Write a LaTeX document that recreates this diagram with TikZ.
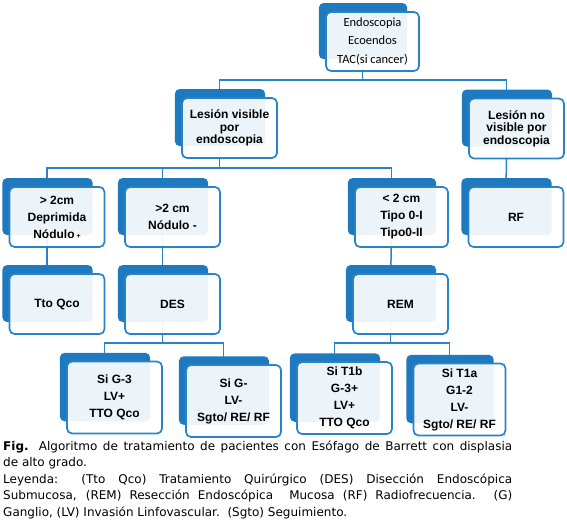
\documentclass[tikz,border=0pt]{standalone}
\usepackage{fontspec}
\setmainfont{DejaVu Sans}
\newfontfamily\boxfont{Liberation Sans}
\newfontfamily\calfont{Carlito}
\usetikzlibrary{shadows,backgrounds}

\definecolor{backblue}{RGB}{31,121,190}
\definecolor{lineblue}{RGB}{40,132,200}

\tikzset{
  card/.style={draw=lineblue, line width=1.7pt, rounded corners=5pt,
    fill=white, fill opacity=0.92, text opacity=1,
    minimum width=95pt, minimum height=60pt, inner sep=1pt, align=center,
    font=\boxfont\bfseries\fontsize{12}{17}\selectfont,
    copy shadow={shadow xshift=-10pt, shadow yshift=11pt, shadow scale=0.95,
      fill=backblue, draw=none, fill opacity=1}},
  tight/.style={font=\boxfont\bfseries\fontsize{12}{12.5}\selectfont},
  tall/.style={minimum height=72pt},
  conn/.style={draw=lineblue, line width=1.5pt},
  caption/.style={anchor=north west, inner sep=0pt, text width=509pt,
    align=justify, font=\fontsize{12}{16.5}\selectfont},
}

\begin{document}
\begin{tikzpicture}[x=1pt, y=-1pt]
    \useasboundingbox (0,0) rectangle (567,519);

    % Boxes
    \node[card, minimum width=93pt, minimum height=59pt,
          font=\calfont\fontsize{12.5}{18.5}\selectfont] (top) at (372.5,41.5)
        {Endoscopia\\Ecoendos\\TAC(si cancer)};
    \node[card, tight] (vis) at (229.5,128) {Lesión visible\\por\\endoscopia};
    \node[card, tight] (novis) at (516.5,128.5) {Lesión no\\visible por\\endoscopia};

    \node[card] (l3a) at (57,217) {> 2cm\\Deprimida\\Nódulo\,{\fontsize{7}{7}\selectfont +}};
    \node[card] (l3b) at (172.5,217) {>2 cm\\Nódulo -};
    \node[card, minimum width=93pt] (l3c) at (401.5,217) {< 2 cm\\Tipo 0-I\\Tipo0-II};
    \node[card] (rf) at (516,217) {RF};

    \node[card] (tto) at (57,304) {Tto Qco};
    \node[card] (des) at (172.5,304) {DES};
    \node[card] (rem) at (400.5,304) {REM};

    \node[card, tall] (g3) at (114.5,397.5) {Si G-3\\LV+\\TTO Qco};
    \node[card, tall] (gm) at (233.5,401) {Si G-\\LV-\\Sgto/ RE/ RF};
    \node[card, tall] (t1b) at (344.5,398) {Si T1b\\G-3+\\LV+\\TTO Qco};
    \node[card, tall, minimum width=92pt] (t1a) at (459.5,399.5) {Si T1a\\G1-2\\LV-\\Sgto/ RE/ RF};

    % Stems
    \foreach \n in {top,vis,novis,l3a,l3b,l3c,rf,tto,des,rem,g3,gm,t1b,t1a}
        \coordinate (\n-s) at ([xshift=-10pt]\n.center);

    % Connectors
    \begin{scope}[on background layer]
        \coordinate (b1) at (0,80);
        \coordinate (b2) at (0,168);
        \coordinate (b3) at (0,343);
        \draw[conn] (top-s) -- (top-s |- b1);
        \foreach \c in {vis,novis}
            \draw[conn] (top-s |- b1) -| (\c-s);
        \draw[conn] (vis-s) -- (vis-s |- b2);
        \foreach \c in {l3a,l3b,l3c}
            \draw[conn] (vis-s |- b2) -| (\c-s);
        \draw[conn] (novis-s) -- (rf-s);
        \draw[conn] (l3a-s) -- (tto-s);
        \draw[conn] (l3b-s) -- (des-s);
        \draw[conn] (l3c-s) -- (rem-s);
        \draw[conn] (des-s) -- (des-s |- b3);
        \foreach \c in {g3,gm}
            \draw[conn] (des-s |- b3) -| (\c-s);
        \draw[conn] (rem-s) -- (rem-s |- b3);
        \foreach \c in {t1b,t1a}
            \draw[conn] (rem-s |- b3) -| (\c-s);
    \end{scope}

    % Caption
    \node[caption] (cap) at (3,440.5) {\textbf{Fig.} Algoritmo de tratamiento de pacientes con Esófago de Barrett con displasia\linebreak de alto grado.\par
        Leyenda: (Tto Qco) Tratamiento Quirúrgico (DES) Disección Endoscópica\linebreak
        Submucosa, (REM) Resección Endoscópica\ \ Mucosa (RF) Radiofrecuencia. (G)\linebreak
        Ganglio, (LV) Invasión Linfovascular.\ \ (Sgto) Seguimiento.};
\end{tikzpicture}
\end{document}
